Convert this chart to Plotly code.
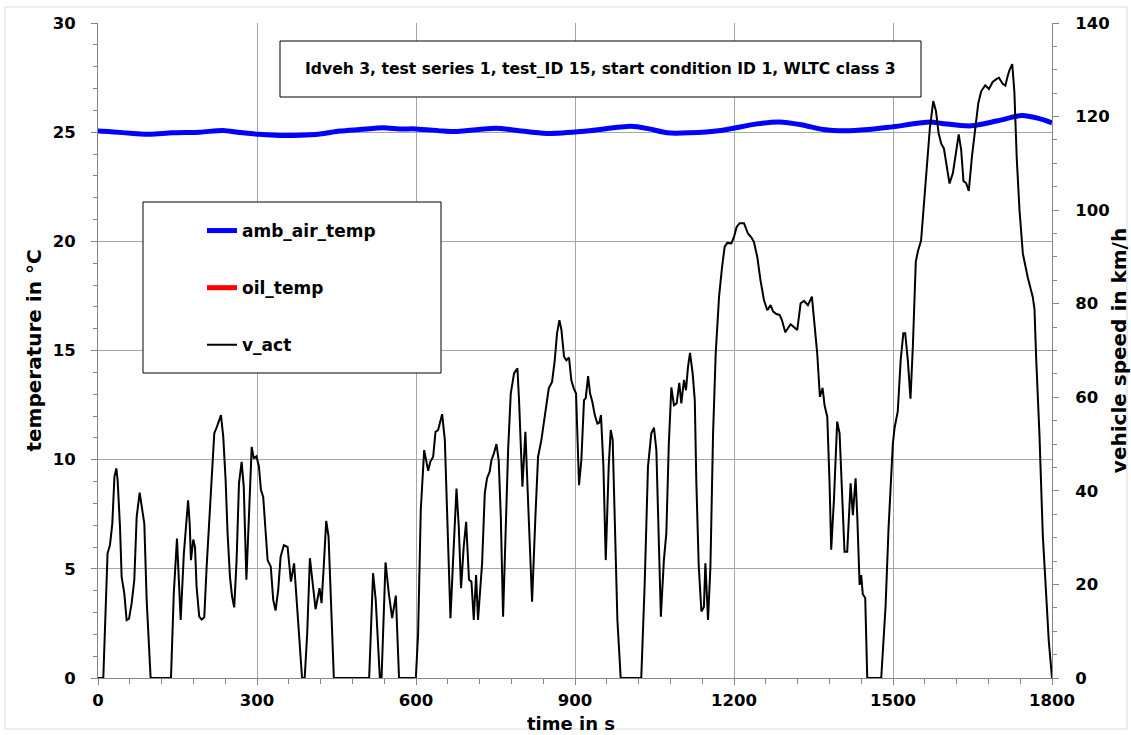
import plotly.graph_objects as go

# ---------------- data ----------------
time_v = [0, 10, 18, 22.6, 27, 31, 34.6, 37, 41.5, 44.6, 49.6, 54, 58.5, 63.5, 68.5, 73, 78.6, 82.4, 87.4, 91.8,
          96.8, 99.3, 137.7, 143, 149, 156, 162, 166, 170, 173, 175.4, 179.8, 183, 186, 191, 195.5, 200.5, 205,
          211, 215.6, 219.4, 224.4, 228, 232, 236.3, 240.8, 244.5, 249, 253, 257, 261.5, 266, 271, 275, 280,
          284.7, 290, 294, 299, 303.6, 307.4, 311.7, 316, 320, 326, 330.6, 335, 340, 344.5, 350.7, 357.7, 364,
          370, 374.7, 381, 385, 390, 394.7, 399.8, 404.8, 410.5, 418, 421.8, 426, 430.6, 435, 438.8, 445, 511.6,
          519, 524, 531.8, 535, 542.5, 548.7, 555, 562, 568, 599.7, 604, 609, 615.4, 623, 627, 632.4, 636.8,
          641.7, 649.3, 654.4, 658.7, 665, 670, 676.4, 680.7, 685, 690, 694.6, 700, 704.6, 709, 713.4, 717,
          724.7, 729.8, 734, 739, 742.4, 746.7, 751.8, 756, 760, 764.3, 769.4, 773.8, 778.8, 785, 791.4, 794.4,
          800.8, 806.4, 811.4, 819, 825.3, 830.3, 836.6, 843, 850.5, 856.7, 861.8, 866, 870.6, 874.4, 879.3,
          883.8, 888.7, 893, 897.6, 902, 907.6, 912, 917, 920.2, 924.7, 928.5, 932.8, 937.3, 942.3, 946, 949,
          953.6, 958, 963.6, 967.4, 971.1, 975, 980, 986.2, 1025, 1031.5, 1037.7, 1044, 1049, 1053.5, 1058,
          1062, 1067.7, 1072.3, 1077, 1081.8, 1086.7, 1091.8, 1096.8, 1100.6, 1105.6, 1109.4, 1113.2, 1117,
          1122, 1126, 1129, 1133.5, 1138.5, 1143.2, 1146, 1151, 1155.5, 1160.5, 1165.5, 1171.8, 1177.5, 1182.4,
          1187.4, 1195, 1200, 1205, 1210.6, 1218.8, 1226.3, 1232.6, 1237.6, 1243.9, 1250, 1256.5, 1262.8, 1269,
          1274, 1280, 1286, 1290.4, 1296.7, 1306.8, 1319.4, 1325.7, 1332, 1339.4, 1347, 1352, 1357, 1362.1,
          1367.1, 1370.9, 1376, 1380.3, 1383.4, 1388.5, 1394.7, 1399.2, 1403.5, 1408.5, 1413.6, 1420, 1424.3,
          1429.4, 1432.6, 1437, 1440, 1443, 1447.6, 1451.4, 1477.8, 1481, 1486, 1491.6, 1496.6, 1499.7, 1503,
          1509, 1514.5, 1519.5, 1523, 1528, 1533, 1537.5, 1543, 1547, 1553, 1559, 1564.5, 1569.5, 1576, 1581,
          1586, 1591, 1596, 1601, 1606.6, 1613, 1619, 1624, 1628.6, 1633, 1638, 1643, 1649, 1655, 1661, 1666.4,
          1674, 1681, 1688, 1695, 1700, 1707, 1712, 1716, 1720, 1725, 1729, 1733.5, 1738.7, 1745, 1754.3,
          1763.8, 1767, 1770, 1776.4, 1782.6, 1789, 1794, 1800]
v_act = [0, 0, 26.6, 28.4, 33, 43, 44.8, 42.3, 32.3, 21.6, 18.1, 12.4, 12.7, 16, 21, 34.5, 39.6, 37, 33, 16.7,
         5.3, 0, 0, 18.1, 29.8, 12.4, 26.6, 31.6, 38, 33, 25.2, 29.6, 28, 19.5, 13.1, 12.5, 13, 23.8,
         36.6, 43.7, 52.3, 53.7, 55.1, 56.2, 51.6, 42.3, 30.9, 21.6, 17.4, 15.1, 25.2, 41.6, 46.2, 40.9, 21,
         34.5, 49.4, 46.9, 47.4, 45.2, 40.2, 38.7, 30.9, 25.2, 23.8, 16.7, 14.4, 18.8, 25.9, 28.4, 28, 20.6,
         24.5, 16.7, 7.4, 0, 0, 9.5, 25.6, 21, 14.7, 19.2, 16, 24, 33.6, 30.2, 19.5, 0, 0,
         22.4, 16.7, 0, 0, 24.7, 18.1, 12.8, 17.6, 0, 0, 9.5, 35.9, 48.7, 44.3, 46.2, 47.3, 52.6,
         53, 56.4, 50.9, 35.9, 12.8, 25.2, 40.5, 32.3, 19.2, 28, 33.4, 21, 20.6, 12.4, 22, 12.4,
         24.5, 39.5, 42.7, 44.1, 46.6, 47.9, 50, 46.6, 34.5, 13.1, 30.9, 48.7, 60.8, 65.1, 66.2, 59.4,
         40.9, 52.6, 38, 16.3, 34.5, 47.3, 50.9, 55.8, 61.9, 63.3, 67.9, 73.6, 76.5, 74.4, 68.7,
         67.9, 68.5, 63.7, 61.9, 60.8, 41.2, 46.6, 59.4, 59.8, 64.5, 60.8, 59, 56.2, 54.4, 54.6, 56.2,
         45.2, 25.2, 45.2, 53, 50.9, 30.9, 12.4, 0, 0, 20.2, 45.2, 52.3, 53.5, 48.7, 30.9,
         13.1, 25.2, 30.9, 50, 62.1, 58.3, 58.7, 63.1, 58.7, 63.7, 61.5, 66.5, 69.5,
         65.1, 59.4, 41.6, 23.8, 14.2, 15.2, 24.5, 12.4, 23.8, 52.3, 69.4, 81.5, 87.9, 92.2,
         93, 92.9, 94.3, 96.4, 97.2, 97.2, 95, 94.2, 93.2, 90, 85, 80.8, 78.6, 79.7,
         78.3, 77.8, 77.6, 76.5, 73.9, 75.6, 74.4, 80.1, 80.6, 79.7, 81.5, 75.1, 69.4, 60.1,
         62, 58.3, 55.8, 41.6, 27.4, 38, 54.8, 52.3, 41.6, 27, 27, 41.6, 34.8,
         42.7, 34.5, 19.9, 22, 17.9, 17.1, 0, 0, 7.1, 15.4, 32, 45, 50, 53.5,
         57, 68, 73.7, 73.7, 67.9, 59.7, 71, 89, 91.2, 93.5, 102, 110.4, 117.5, 123.3, 121.2,
         116.5, 114.2, 113.2, 109.6, 105.7, 107.9, 112.9, 116.2, 112.9, 106.2, 105.8, 104.1, 111.5, 117.9, 122.9, 125.4,
         126.7, 125.9, 127.4, 128, 128.3, 127, 126.6, 128.5, 130, 131.2, 125.3, 111, 100, 90.7, 85.6,
         81.4, 78.8, 68.7, 51.8, 30.6, 16.2, 7.8, 0]

time_amb = [0, 24, 67, 98, 140, 192, 236, 268, 305, 343, 381, 419, 456, 494, 538, 569, 600, 653, 678, 750, 788,
            847, 922, 1006, 1040, 1074, 1116, 1175, 1243, 1285, 1327, 1368, 1410, 1453, 1495, 1571, 1592, 1647,
            1697, 1743, 1773, 1800]
amb_air_temp = [25.05, 25.02, 24.94, 24.9, 24.97, 25.0, 25.08, 24.98, 24.9, 24.85, 24.86, 24.92, 25.05, 25.12,
                25.2, 25.15, 25.15, 25.05, 25.03, 25.18, 25.09, 24.94, 25.05, 25.27, 25.15, 24.97, 24.97, 25.08,
                25.38, 25.47, 25.34, 25.12, 25.06, 25.12, 25.23, 25.46, 25.4, 25.29, 25.52, 25.76, 25.64, 25.43]

# oil_temp is listed in the legend but shows no visible values in the chart
time_oil = [0]
oil_temp = [None]

x_ticks = [0, 300, 600, 900, 1200, 1500, 1800]
temp_ticks = [0, 5, 10, 15, 20, 25, 30]
speed_ticks = [0, 20, 40, 60, 80, 100, 120, 140]

title_text = "Idveh 3, test series 1, test_ID 15, start condition ID 1, WLTC class 3"

# ---------------- figure ----------------
FONT = "DejaVu Sans"
AX = "#868686"
GRID = "#a6a6a6"

fig = go.Figure()
fig.add_trace(go.Scatter(x=time_amb, y=amb_air_temp, name="amb_air_temp", mode="lines",
                         line=dict(color="#0000ff", width=5, shape="spline", smoothing=0.8),
                         legendgroup="g1", yaxis="y"))
fig.add_trace(go.Scatter(x=time_oil, y=oil_temp, name="oil_temp", mode="lines",
                         line=dict(color="#ff0000", width=5), legendgroup="g2", yaxis="y"))
fig.add_trace(go.Scatter(x=time_v, y=v_act, name="v_act", mode="lines",
                         line=dict(color="#000000", width=2), legendgroup="g3", yaxis="y2"))

tickfont = dict(family=FONT, size=16.5, color="black", weight="bold")
titlefont = dict(family=FONT, size=20, color="black", weight="bold")

W, H = 1131, 735
L, R, T, B = 98, 79, 23, 57
pw, ph = W - L - R, H - T - B


def px(xp):
    return (xp - L) / pw


def py(yp):
    return (H - B - yp) / ph


fig.update_layout(
    width=W, height=H, autosize=False,
    margin=dict(l=L, r=R, t=T, b=B, pad=0),
    paper_bgcolor="white", plot_bgcolor="white",
    font=dict(family=FONT, color="black"),
    xaxis=dict(range=[0, 1800], tickvals=x_ticks, ticks="outside", ticklen=6, tickcolor=AX, tickwidth=1,
               showline=True, linecolor=AX, linewidth=1, showgrid=True, gridcolor=GRID, gridwidth=1,
               zeroline=False, tickfont=tickfont, ticklabelstandoff=1, automargin=False,
               minor=dict(dtick=60, ticks="outside", ticklen=5, tickcolor=AX, showgrid=False)),
    yaxis=dict(range=[0, 30], tickvals=temp_ticks, ticks="outside", ticklen=6, tickcolor=AX, tickwidth=1,
               showline=True, linecolor=AX, linewidth=1, showgrid=True, gridcolor=GRID, gridwidth=1,
               zeroline=False, tickfont=tickfont, ticklabelstandoff=12, automargin=False,
               minor=dict(dtick=1, ticks="outside", ticklen=4, tickcolor=AX, showgrid=False),
               title=dict(text="temperature in °C", font=titlefont, standoff=5)),
    yaxis2=dict(range=[0, 140], tickvals=speed_ticks, overlaying="y", side="right", anchor="x",
                ticks="outside", ticklen=6, tickcolor=AX, tickwidth=1, automargin=False,
                showline=True, linecolor=AX, linewidth=1, showgrid=False, zeroline=False,
                tickfont=tickfont, ticklabelstandoff=13,
                minor=dict(dtick=5, ticks="outside", ticklen=4, tickcolor=AX, showgrid=False),
                title=dict(text="vehicle speed in km/h", font=titlefont, standoff=3)),
    legend=dict(x=px(202), y=py(213), xanchor="left", yanchor="top", bgcolor="rgba(0,0,0,0)",
                borderwidth=0, tracegroupgap=32, traceorder="grouped",
                font=dict(family=FONT, size=17, color="black", weight="bold")),
    showlegend=True,
)

shapes = [
    # outer chart border
    dict(type="rect", xref="paper", yref="paper", x0=px(5), x1=px(1127), y0=py(729), y1=py(7),
         line=dict(color="#d9d9d9", width=1), fillcolor="rgba(0,0,0,0)", layer="below"),
    # legend box
    dict(type="rect", xref="paper", yref="paper", x0=px(143), x1=px(441), y0=py(373), y1=py(202),
         line=dict(color="#000000", width=1), fillcolor="white", layer="above"),
    # title box
    dict(type="rect", xref="paper", yref="paper", x0=px(280), x1=px(921), y0=py(97), y1=py(41),
         line=dict(color="#000000", width=1), fillcolor="white", layer="above"),
]
fig.update_layout(shapes=shapes)

fig.add_annotation(x=px(600.5), y=py(69), xref="paper", yref="paper", text=title_text, showarrow=False,
                   xanchor="center", yanchor="middle",
                   font=dict(family=FONT, size=15.6, color="black", weight="bold"))
# x-axis title placed just under the tick labels
fig.add_annotation(x=px(571), y=py(723), xref="paper", yref="paper", text="time in s", showarrow=False,
                   xanchor="center", yanchor="middle",
                   font=dict(family=FONT, size=18, color="black", weight="bold"))

# remove the default page margin so the figure sits at the window's top-left corner
fig.write_html("out.html", config={"displayModeBar": False},
               post_script="document.body.style.margin='0';")
